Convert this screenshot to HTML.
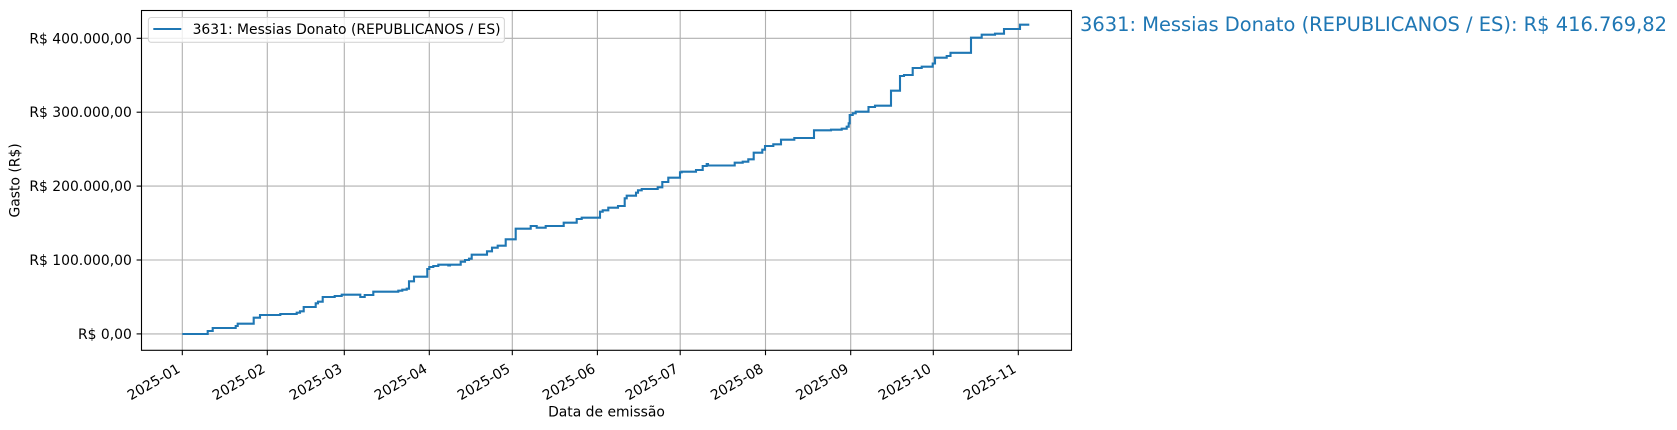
<!DOCTYPE html>
<html>
<head>
<meta charset="utf-8">
<style>
html,body{margin:0;padding:0;background:#fff;}
svg{display:block;}
text{font-family:"DejaVu Sans","Liberation Sans",sans-serif;}
</style>
</head>
<body>
<svg width="1677" height="430" viewBox="0 0 1677 430" xmlns="http://www.w3.org/2000/svg">
<rect x="0" y="0" width="1677" height="430" fill="#fff"/>
<!-- grid -->
<g stroke="#b0b0b0" stroke-width="1.1" fill="none">
<line x1="182.3" y1="10.5" x2="182.3" y2="350.3"/>
<line x1="267.3" y1="10.5" x2="267.3" y2="350.3"/>
<line x1="344.3" y1="10.5" x2="344.3" y2="350.3"/>
<line x1="429.3" y1="10.5" x2="429.3" y2="350.3"/>
<line x1="512.3" y1="10.5" x2="512.3" y2="350.3"/>
<line x1="597.4" y1="10.5" x2="597.4" y2="350.3"/>
<line x1="680.2" y1="10.5" x2="680.2" y2="350.3"/>
<line x1="765.5" y1="10.5" x2="765.5" y2="350.3"/>
<line x1="850.7" y1="10.5" x2="850.7" y2="350.3"/>
<line x1="933.3" y1="10.5" x2="933.3" y2="350.3"/>
<line x1="1018.3" y1="10.5" x2="1018.3" y2="350.3"/>
<line x1="141.5" y1="333.9" x2="1071.5" y2="333.9"/>
<line x1="141.5" y1="260.0" x2="1071.5" y2="260.0"/>
<line x1="141.5" y1="186.1" x2="1071.5" y2="186.1"/>
<line x1="141.5" y1="112.2" x2="1071.5" y2="112.2"/>
<line x1="141.5" y1="38.3" x2="1071.5" y2="38.3"/>
</g>
<!-- series -->
<path fill="none" stroke="#1f77b4" stroke-width="2.1" stroke-linejoin="miter" d="M182.3,334 H207.7 V331 H212.7 V328 H235.7 V326 H237.7 V323.7 H253.7 V317.7 H260 V315 H280.3 V314 H296.7 V312.7 H300 V311.3 H303.7 V307 H315.7 V303.3 H318 V301.7 H322.7 V297 H334.7 V296 H341.7 V294.7 H360.3 V297 H364.7 V295 H373.3 V291.7 H398.3 V290.7 H402.3 V289.7 H406.7 V288.7 H409 V281.3 H414 V276.7 H427.3 V269 H429.3 V267 H433.3 V266 H438.3 V264.7 H448.3 V265.5 H450 V264.7 H460.7 V261.7 H465 V260 H469 V258.7 H471.7 V254.7 H487 V251.3 H492 V247.7 H497.7 V245.7 H505.7 V239.3 H515.7 V228.7 H530.7 V226 H536.7 V227.7 H545.7 V226 H563.7 V222.7 H576.7 V219 H581.7 V217.7 H600 V211.7 H602.7 V210.3 H608.3 V207.7 H618 V206 H624.7 V198.3 H626.7 V195.7 H636 V192.7 H638 V190.3 H641.7 V189 H657.7 V187.3 H662.3 V182 H668.3 V177.7 H680 V172.3 H681.7 V171.7 H696 V170 H702.7 V166 H706.7 V164 H708 V165.5 H734.7 V162.7 H742.7 V161.7 H748.3 V159.3 H753.7 V152.7 H762.3 V149.7 H765 V146 H773.3 V144.3 H781 V139.7 H794.3 V138 H814 V130.3 H831 V129.7 H841.7 V128.7 H846.7 V126.7 H848.7 V123.3 H849.7 V115 H852.7 V113.3 H855.7 V111.7 H868.5 V107 H875 V105.7 H891 V90.7 H900 V76 H904 V75 H912.7 V68 H921.7 V66.7 H932.7 V63.5 H935 V57.7 H946.7 V56 H950.5 V52.8 H971 V37.7 H981.7 V34.7 H995 V33.7 H1004 V29 H1020 V24.7 H1029.3"/>
<!-- axes frame -->
<rect x="141.5" y="10.5" width="930" height="339.8" fill="none" stroke="#000" stroke-width="1.1"/>
<!-- ticks -->
<g stroke="#000" stroke-width="1.1">
<line x1="136.6" y1="333.9" x2="141.5" y2="333.9"/>
<line x1="136.6" y1="260.0" x2="141.5" y2="260.0"/>
<line x1="136.6" y1="186.1" x2="141.5" y2="186.1"/>
<line x1="136.6" y1="112.2" x2="141.5" y2="112.2"/>
<line x1="136.6" y1="38.3" x2="141.5" y2="38.3"/>
<line x1="182.3" y1="350.3" x2="182.3" y2="355.2"/>
<line x1="267.3" y1="350.3" x2="267.3" y2="355.2"/>
<line x1="344.3" y1="350.3" x2="344.3" y2="355.2"/>
<line x1="429.3" y1="350.3" x2="429.3" y2="355.2"/>
<line x1="512.3" y1="350.3" x2="512.3" y2="355.2"/>
<line x1="597.4" y1="350.3" x2="597.4" y2="355.2"/>
<line x1="680.2" y1="350.3" x2="680.2" y2="355.2"/>
<line x1="765.5" y1="350.3" x2="765.5" y2="355.2"/>
<line x1="850.7" y1="350.3" x2="850.7" y2="355.2"/>
<line x1="933.3" y1="350.3" x2="933.3" y2="355.2"/>
<line x1="1018.3" y1="350.3" x2="1018.3" y2="355.2"/>
</g>
<!-- y tick labels -->
<g font-size="13.9" fill="#000" text-anchor="end">
<text x="131.8" y="338.9">R$ 0,00</text>
<text x="131.8" y="265.0">R$ 100.000,00</text>
<text x="131.8" y="191.1">R$ 200.000,00</text>
<text x="131.8" y="117.2">R$ 300.000,00</text>
<text x="131.8" y="43.3">R$ 400.000,00</text>
</g>
<!-- x tick labels -->
<g font-size="13.9" fill="#000" text-anchor="end">
<text transform="translate(181.2,371.5) rotate(-30)">2025-01</text>
<text transform="translate(266.2,371.5) rotate(-30)">2025-02</text>
<text transform="translate(343.2,371.5) rotate(-30)">2025-03</text>
<text transform="translate(428.2,371.5) rotate(-30)">2025-04</text>
<text transform="translate(511.2,371.5) rotate(-30)">2025-05</text>
<text transform="translate(596.3,371.5) rotate(-30)">2025-06</text>
<text transform="translate(679.1,371.5) rotate(-30)">2025-07</text>
<text transform="translate(764.4,371.5) rotate(-30)">2025-08</text>
<text transform="translate(849.6,371.5) rotate(-30)">2025-09</text>
<text transform="translate(932.2,371.5) rotate(-30)">2025-10</text>
<text transform="translate(1017.2,371.5) rotate(-30)">2025-11</text>
</g>
<!-- axis labels -->
<text x="606.5" y="416.5" font-size="13.9" text-anchor="middle" fill="#000">Data de emissão</text>
<text transform="translate(19.6,180.4) rotate(-90)" font-size="13.9" text-anchor="middle" fill="#000">Gasto (R$)</text>
<!-- legend -->
<rect x="148.4" y="17.5" width="356" height="24.8" rx="2.8" ry="2.8" fill="#fff" fill-opacity="0.8" stroke="#d6d6d6" stroke-width="1.1"/>
<line x1="153.3" y1="29" x2="181.3" y2="29" stroke="#1f77b4" stroke-width="2.1"/>
<text x="192.6" y="34" font-size="13.9" fill="#000">3631: Messias Donato (REPUBLICANOS / ES)</text>
<!-- right annotation -->
<text x="1080" y="31" font-size="19.44" fill="#1f77b4">3631: Messias Donato (REPUBLICANOS / ES): R$ 416.769,82</text>
</svg>
</body>
</html>
